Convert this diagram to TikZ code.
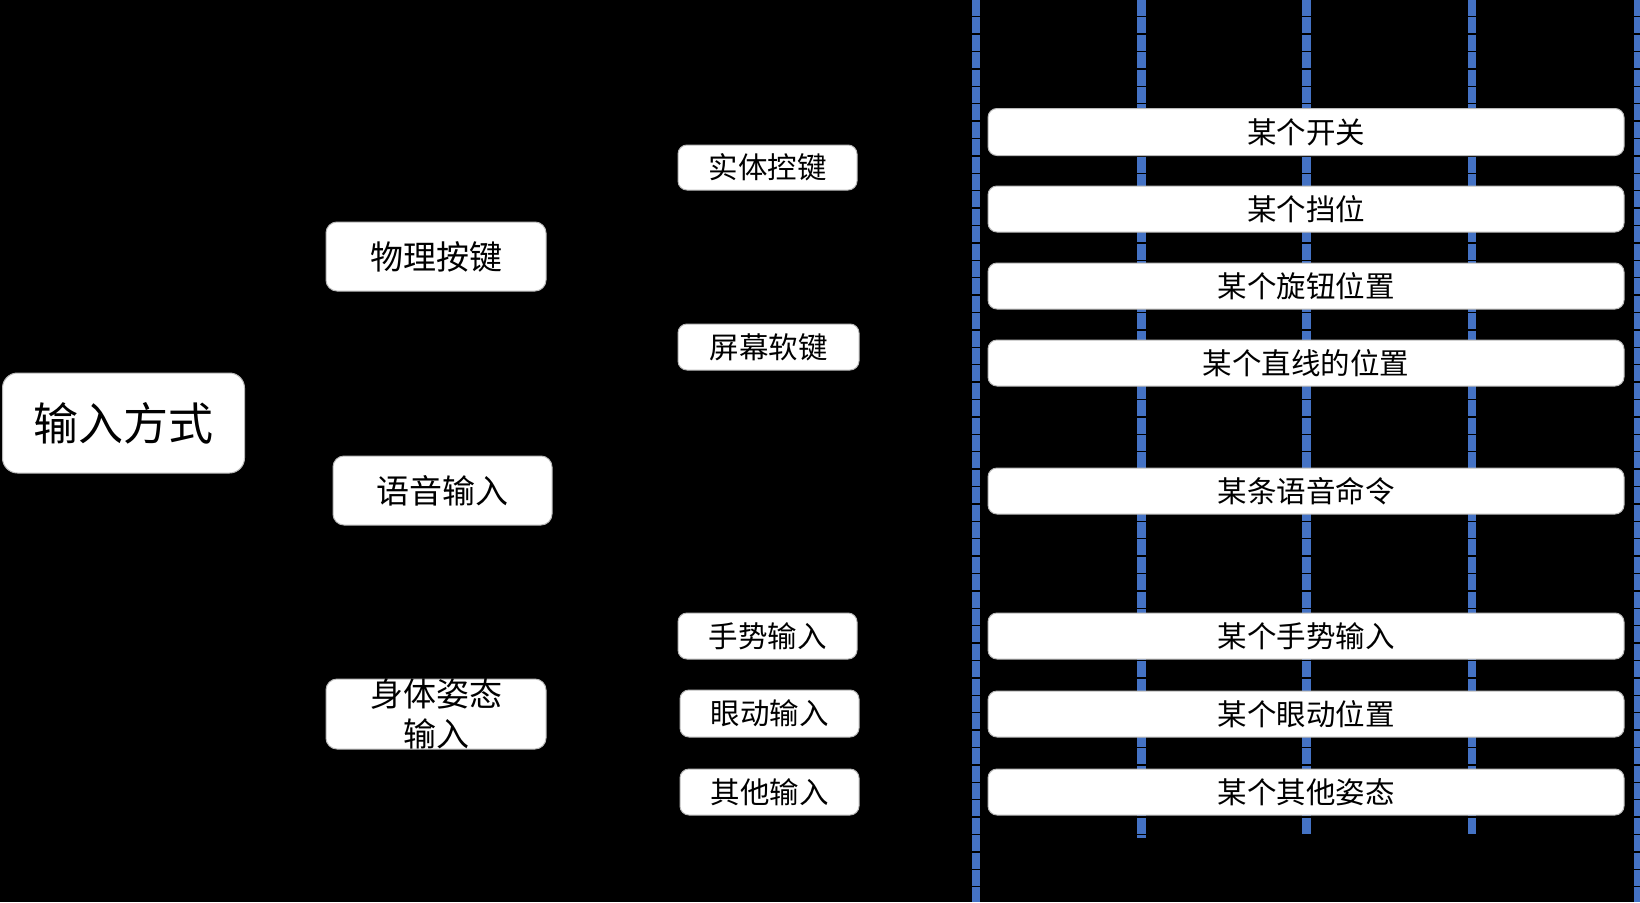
\documentclass[tikz,border=0pt]{standalone}
\usepackage{fontspec}
\newfontfamily\cjk{Noto Sans CJK SC}
\definecolor{lineblue}{RGB}{68,114,196}
\tikzset{
  box/.style={rectangle, rounded corners=9pt, fill=white, draw=gray!55, line width=1pt, inner sep=0pt, align=center, text=black},
  vline/.style={draw=lineblue, dash pattern=on 16pt off 1.4pt},
  fA/.style={font=\cjk\fontsize{45}{54}\selectfont},
  fB/.style={font=\cjk\fontsize{33}{40}\selectfont},
  fC/.style={font=\cjk\fontsize{29.5}{36}\selectfont},
}
\begin{document}
\begin{tikzpicture}[x=1pt,y=-1pt]
\fill[black] (0,0) rectangle (1640,902);
\useasboundingbox (0,0) rectangle (1640,902);
% vertical dashed blue lines
\coordinate (l1t) at (976,0);     \coordinate (l1b) at (976,902);
\coordinate (l2t) at (1141.5,0);  \coordinate (l2b) at (1141.5,838);
\coordinate (l3t) at (1306,0);    \coordinate (l3b) at (1306,834);
\coordinate (l4t) at (1472,0);    \coordinate (l4b) at (1472,834);
\coordinate (l5t) at (1637.5,0);  \coordinate (l5b) at (1637.5,902);
\draw[vline, line width=8pt] (l1t) -- (l1b);
\draw[vline, line width=9pt] (l2t) -- (l2b);
\draw[vline, line width=9pt] (l3t) -- (l3b);
\draw[vline, line width=8pt] (l4t) -- (l4b);
\draw[vline, line width=7pt] (l5t) -- (l5b);
% left tree
\node[box, fA, rounded corners=15pt, minimum width=242pt, minimum height=100pt] (in) at (123.5,423) {输入方式};
\node[box, fB, rounded corners=11pt, minimum width=220pt, minimum height=69pt] (phys) at (436,256.5) {物理按键};
\node[box, fB, rounded corners=11pt, minimum width=219pt, minimum height=69pt] (voice) at (442.5,490.5) {语音输入};
\node[box, rounded corners=11pt, minimum width=220pt, minimum height=70pt] (body) at (436,714) {};
\node[fB, align=center, inner sep=0pt, font=\cjk\fontsize{33}{40}\selectfont] (bodyt) at (body.center) {身体姿态\\输入};
% middle column
\node[box, fC, minimum width=179pt, minimum height=45pt] (hard) at (767.5,167.5) {实体控键};
\node[box, fC, minimum width=181pt, minimum height=46pt] (soft) at (768.5,347) {屏幕软键};
\node[box, fC, minimum width=179pt, minimum height=46pt] (gest) at (767.5,636) {手势输入};
\node[box, fC, minimum width=179pt, minimum height=47pt] (eye) at (769.5,713.5) {眼动输入};
\node[box, fC, minimum width=179pt, minimum height=46pt] (other) at (769.5,792) {其他输入};
% right column
\node[box, fC, minimum width=636pt, minimum height=47pt] (r1) at (1306,132) {某个开关};
\node[box, fC, minimum width=636pt, minimum height=46pt] (r2) at (1306,209) {某个挡位};
\node[box, fC, minimum width=636pt, minimum height=46pt] (r3) at (1306,286) {某个旋钮位置};
\node[box, fC, minimum width=636pt, minimum height=46pt] (r4) at (1306,363) {某个直线的位置};
\node[box, fC, minimum width=636pt, minimum height=46pt] (r5) at (1306,491) {某条语音命令};
\node[box, fC, minimum width=636pt, minimum height=46pt] (r6) at (1306,636) {某个手势输入};
\node[box, fC, minimum width=636pt, minimum height=46pt] (r7) at (1306,714) {某个眼动位置};
\node[box, fC, minimum width=636pt, minimum height=46pt] (r8) at (1306,792) {某个其他姿态};
\end{tikzpicture}
\end{document}
